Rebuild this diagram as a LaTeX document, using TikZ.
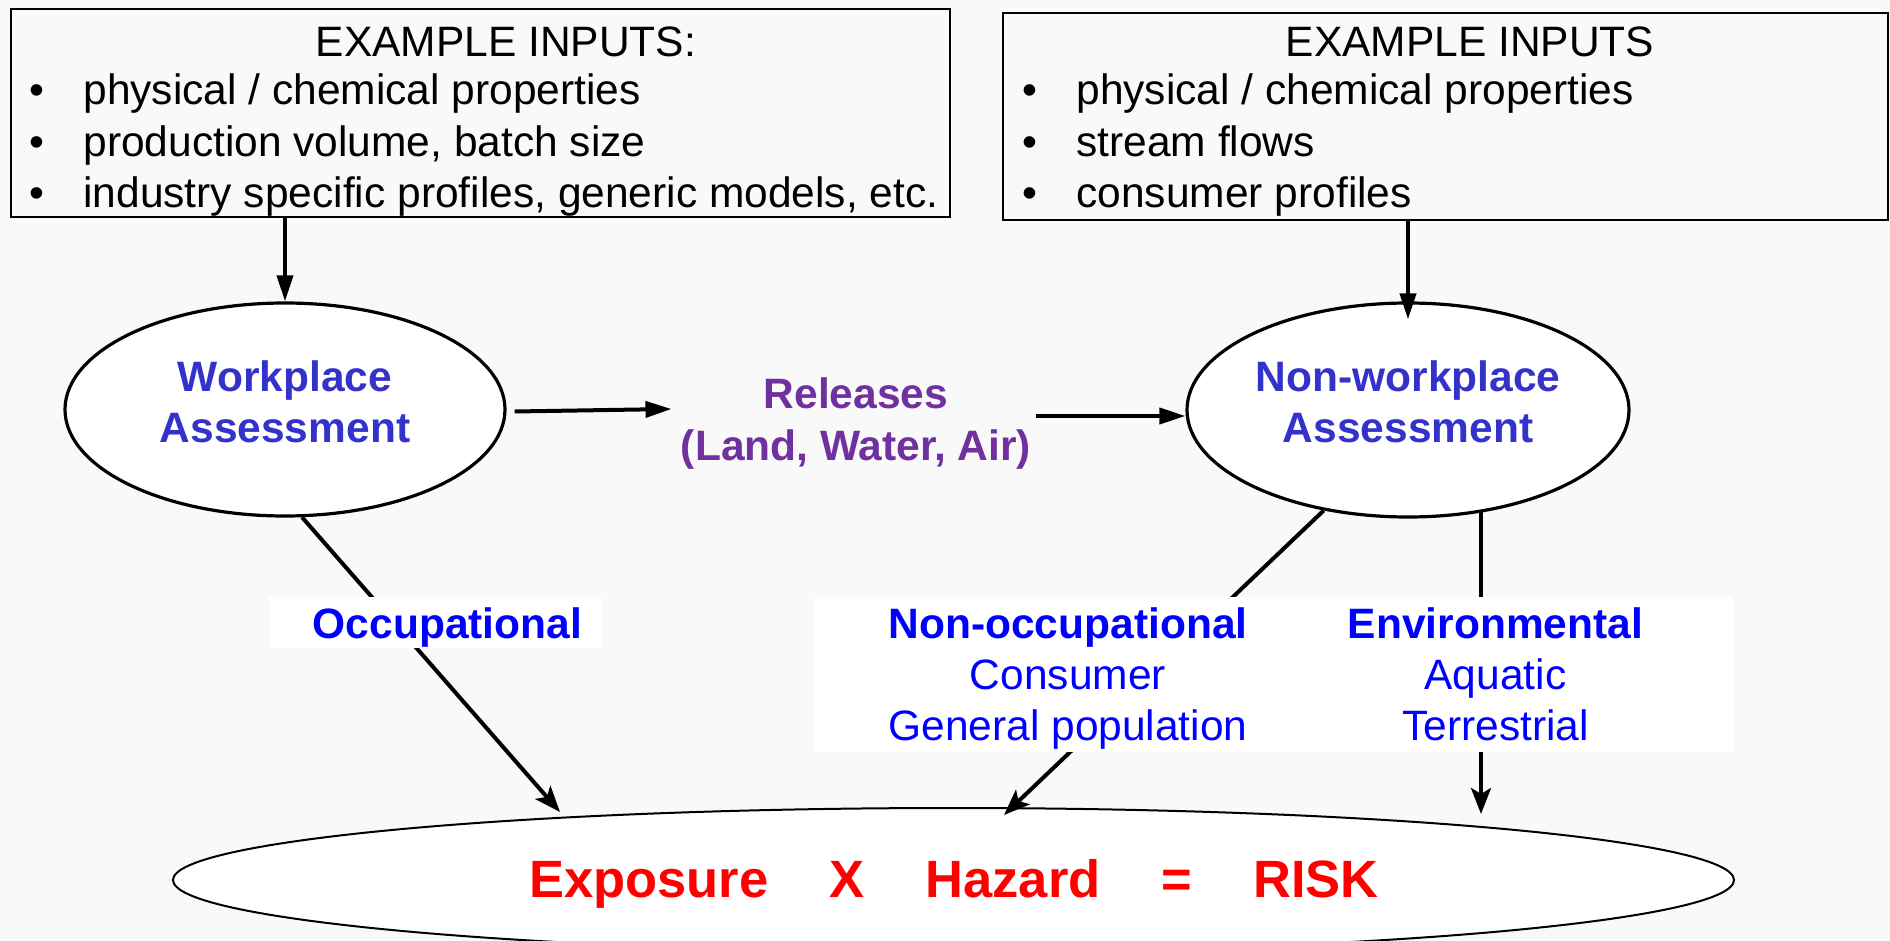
\documentclass[tikz,border=0pt]{standalone}
\usepackage{fontspec}
\setmainfont{Liberation Sans}
\usetikzlibrary{arrows.meta,shapes.geometric}
\definecolor{bgc}{RGB}{249,249,249}
\definecolor{asmt}{RGB}{51,51,204}
\definecolor{pathblue}{RGB}{0,0,255}
\definecolor{relc}{RGB}{112,48,160}
\definecolor{riskred}{RGB}{255,0,0}
\begin{document}
\begin{tikzpicture}[x=0.5pt,y=-0.5pt,
  inbox/.style={draw=black, line width=1pt, inner sep=0pt},
  bodytext/.style={font=\fontsize{21.25}{23}\selectfont, inner sep=0pt, anchor=base},
  btext/.style={bodytext, anchor=base west},
  asmtshape/.style={ellipse, draw=black, line width=1.6pt, fill=white, inner sep=0pt},
  asmttext/.style={font=\fontsize{21.25}{25.75}\selectfont\bfseries, text=asmt, align=center, inner sep=0pt},
  reltext/.style={font=\fontsize{21.25}{26}\selectfont\bfseries, text=relc, align=center, inner sep=4.5pt},
  labelbox/.style={fill=white, inner sep=0pt},
  pathhead/.style={font=\fontsize{21.25}{25}\selectfont\bfseries, text=pathblue, anchor=base, inner sep=0pt},
  pathsub/.style={font=\fontsize{21.25}{25}\selectfont, text=pathblue, anchor=base, inner sep=0pt},
  feed/.style={-{Triangle[length=13pt,width=8pt]}, line width=2pt},
  flow/.style={-{Stealth[length=13pt,width=10pt,inset=3pt]}, line width=2pt},
  riskshape/.style={ellipse, draw=black, line width=1pt, fill=white, inner sep=0pt},
  risktext/.style={font=\fontsize{26.25}{30}\selectfont\bfseries, text=riskred, anchor=base, inner sep=0pt}
]
\fill[bgc] (0,0) rectangle (1890,941);
\useasboundingbox (0,0) rectangle (1890,941);

% input boxes
\node[inbox, minimum width=469.5pt, minimum height=104pt] (lbox) at (480.5,113) {};
\node[bodytext] (ltitle) at (506,57) {EXAMPLE INPUTS:};
\node[btext] (l1) at (29,105) {\makebox[27pt][l]{•}physical / chemical properties};
\node[btext] (l2) at (29,156.5) {\makebox[27pt][l]{•}production volume, batch size};
\node[btext] (l3) at (29,208) {\makebox[27pt][l]{•}industry specific profiles, generic models, etc.};

\node[inbox, minimum width=442.5pt, minimum height=103.5pt] (rbox) at (1445.5,116.5) {};
\node[bodytext] (rtitle) at (1470,57) {EXAMPLE INPUTS};
\node[btext] (r1) at (1022,105) {\makebox[27pt][l]{•}physical / chemical properties};
\node[btext] (r2) at (1022,156.5) {\makebox[27pt][l]{•}stream flows};
\node[btext] (r3) at (1022,208) {\makebox[27pt][l]{•}consumer profiles};

% assessments
\node[asmtshape, minimum width=220pt, minimum height=106.5pt] (wp) at (285,409.5) {};
\node[asmttext] (wpt) at (285,402) {Workplace\\Assessment};
\node[asmtshape, minimum width=221pt, minimum height=107pt] (nwp) at (1408,410) {};
\node[asmttext] (nwpt) at (1408,402) {Non-workplace\\Assessment};
\node[reltext] (rel) at (856,424) {Releases\\(Land, Water, Air)};

% result
\node[riskshape, minimum width=780.5pt, minimum height=72pt] (risk) at (953.5,880) {};

\coordinate (tipA) at (560,812);
\coordinate (tipB) at (1004,815);
\coordinate (tipC) at (1481,814);

% connectors
\draw[feed] (lbox.south -| wp.north) -- (wp.north);
\draw[feed] (rbox.south -| nwp.north) -- ([yshift=-9pt]nwp.north);
\draw[feed] ([shift={(8,2)}]wp.east) -- ([shift={(0,-15)}]rel.west);
\draw[feed] ([shift={(-5,-8)}]rel.east) -- ([shift={(0,6)}]nwp.west);
\draw[flow] (wp.279) -- (tipA);
\draw[flow] (nwp.230) -- (tipB);
\draw[flow] (tipC |- nwp.306) -- (tipC);

% pathway labels
\node[labelbox, minimum width=166.5pt, minimum height=25.5pt] (occbox) at (435.5,622.5) {};
\node[pathhead] (occ) at (447.5,638) {Occupational};
\node[labelbox, minimum width=459pt, minimum height=77.5pt] (envbox) at (1274,674.5) {};
\node[pathhead] (nocc) at (1068,638) {Non-occupational};
\node[pathsub] (cons) at (1068,689) {Consumer};
\node[pathsub] (genp) at (1068,740) {General population};
\node[pathhead] (env) at (1495.5,638) {Environmental};
\node[pathsub] (aqua) at (1495.5,689) {Aquatic};
\node[pathsub] (terr) at (1495.5,740) {Terrestrial};

\node[risktext] (eq) at (954,897) {Exposure\hspace{30.5pt}X\hspace{30.5pt}Hazard\hspace{30.5pt}=\hspace{30.5pt}RISK};
\end{tikzpicture}
\end{document}
